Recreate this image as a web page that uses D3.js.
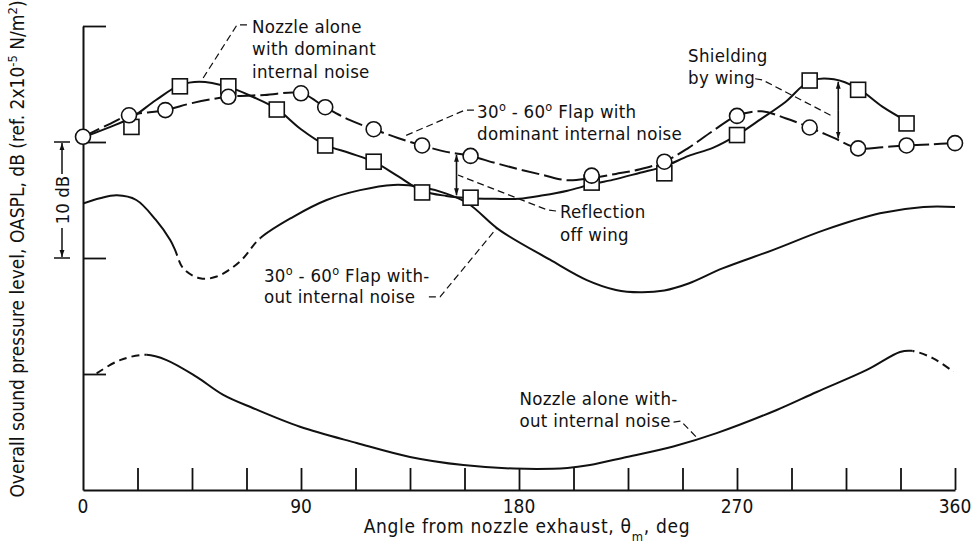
<!DOCTYPE html>
<html>
<head>
<meta charset="utf-8">
<script src="https://cdn.jsdelivr.net/npm/d3@7/dist/d3.min.js"></script>
<style>
  html, body { margin: 0; padding: 0; background: #fff; }
  svg text {
    font-family: "DejaVu Sans Condensed", "DejaVu Sans", "Liberation Sans Narrow", sans-serif;
    font-stretch: condensed;
    fill: #111;
  }
</style>
</head>
<body>
<svg id="chart" width="973" height="547"></svg>
<script>
// ---- Directivity data: angle from nozzle exhaust (deg) vs OASPL (dB, relative) ----

// Nozzle alone with dominant internal noise (square symbols)
const squareAngles = [20, 40, 60, 80, 100, 120, 140, 160, 210, 240, 270, 300, 320, 340];
const squareDb     = [31.3, 34.8, 34.8, 32.8, 29.7, 28.3, 25.65, 25.2, 26.5, 27.3, 30.6, 35.3, 34.5, 31.6];

// Faired curve through the square data
const squareFitAngles = [0, 10, 20, 30, 40, 48, 60, 70, 80, 90, 100, 110, 120, 130, 140, 150, 160, 170, 180,
                         190, 200, 210, 220, 230, 240, 250, 260, 270, 280, 290, 300, 310, 320, 330, 340];
const squareFitDb     = [30.4, 31.2, 32.1, 33.6, 34.9, 35.2, 34.75, 33.9, 32.85, 31.1, 29.75, 29.05, 28.3, 27.05, 25.8,
                         25.35, 25.15, 25.1, 25.1, 25.4, 25.8, 26.35, 26.8, 27.35, 27.9, 28.8, 29.5, 30.6, 32.0,
                         33.45, 35.25, 35.4, 34.6, 33.05, 31.8];

// 30-60 deg flap with dominant internal noise (circle symbols)
const circleAngles = [0, 19, 34, 60, 90, 100, 120, 140, 160, 210, 240, 270, 300, 320, 340, 360];
const circleDb     = [30.45, 32.3, 32.75, 33.9, 34.2, 33.0, 31.1, 29.7, 28.8, 27.1, 28.3, 32.25, 31.25, 29.45, 29.7, 29.9];

// Faired curve through the circle data
const circleFitAngles = [0, 10, 19, 34, 45, 60, 75, 90, 100, 110, 120, 130, 140, 150, 160, 170, 180, 190, 200,
                         210, 220, 230, 240, 250, 260, 270, 280, 290, 300, 310, 320, 330, 340, 350, 360];
const circleFitDb     = [30.45, 31.45, 32.3, 32.75, 33.35, 33.9, 34.05, 34.2, 33.0, 31.9, 31.1, 30.35, 29.7, 29.15,
                         28.8, 28.2, 27.65, 27.15, 26.7, 26.9, 27.25, 27.65, 28.3, 29.5, 30.95, 32.25, 32.65, 32.05,
                         31.25, 30.35, 29.45, 29.55, 29.7, 29.8, 29.9];

// 30-60 deg flap without internal noise (calculated curve; dashed where estimated)
const flapAngles = [0, 7, 14, 22, 30, 36, 38, 41.4, 48.3, 55.2, 64.8, 73.1, 86.8, 100.6, 114.4, 128.1, 139, 150, 159,
                    172, 192.8, 208, 220, 230, 240, 250, 264, 285, 306, 329, 347, 360];
const flapDb     = [24.7, 25.15, 25.4, 25.0, 23.3, 21.55, 20.7, 19.1, 18.25, 18.4, 19.7, 21.7, 23.55, 25.0, 25.85,
                    26.3, 26.15, 25.55, 24.7, 22.4, 19.85, 18.1, 17.25, 17.05, 17.2, 17.8, 19.1, 20.7, 22.4,
                    23.85, 24.4, 24.4];
const flapDashedRange = [38, 73.1];

// Nozzle alone without internal noise (calculated curve; dashed where estimated)
const nozzleAngles = [5.6, 15.3, 26.3, 34.5, 46.9, 57.9, 70.3, 89.6, 113, 135, 157, 178, 200, 209.3, 224.5,
                      243.7, 261.6, 286.4, 302.9, 323.6, 337.3, 342, 351, 359.3];
const nozzleDb     = [10.05, 11.2, 11.65, 11.2, 9.75, 8.2, 7.05, 5.45, 4.05, 2.85, 2.15, 1.85, 1.9, 2.15, 2.85,
                      3.75, 4.9, 6.9, 8.45, 10.35, 11.9, 12.0, 11.35, 10.2];
const nozzleDashedRanges = [[5.6, 26.3], [342.5, 360]];

// Axis ticks
const xMinorTicks = [22.5, 45, 67.5, 90, 112.5, 135, 157.5, 180, 202.5, 225, 247.5, 270, 292.5, 315, 337.5, 360];
const xTickLabels = [0, 90, 180, 270, 360];
const yTickValues = [10, 20, 30, 40];

// Difference arrows (angle, dB from, dB to)
const reflectionArrow = [154.2, 28.9, 25.4];
const shieldingArrow  = [311.8, 35.2, 30.3];

// ---- Drawing ----
const svg = d3.select("#chart");
const x = d3.scaleLinear().domain([0, 360]).range([83, 955]);
const y = d3.scaleLinear().domain([0, 40]).range([490, 26]);
const INK = "#111";
const FS = 18.5;      // annotation text
const FS_AX = 19;     // axis titles and tick labels

const zip = (a, b) => a.map((v, i) => [v, b[i]]);
const line = d3.line()
  .x(d => x(d[0])).y(d => y(d[1]))
  .curve(d3.curveCatmullRom.alpha(0.5));

const defs = svg.append("defs");
defs.append("marker").attr("id", "head")
  .attr("viewBox", "0 0 10 10").attr("refX", 10).attr("refY", 5)
  .attr("markerWidth", 7).attr("markerHeight", 7).attr("markerUnits", "userSpaceOnUse")
  .attr("orient", "auto-start-reverse")
  .append("path").attr("d", "M0,1.5 L10,5 L0,8.5 Z").attr("fill", INK);

// clip paths splitting a curve into solid and dashed angle ranges
function makeClip(id, ranges, invert) {
  const cp = defs.append("clipPath").attr("id", id);
  let segs;
  if (invert) {
    segs = [];
    let start = 0;
    ranges.forEach(r => { segs.push([start, r[0]]); start = r[1]; });
    segs.push([start, 360]);
  } else segs = ranges;
  segs.filter(s => s[1] > s[0]).forEach(s => {
    cp.append("rect").attr("x", x(s[0])).attr("y", 0)
      .attr("width", x(s[1]) - x(s[0])).attr("height", 547);
  });
}
makeClip("flapSolid", [flapDashedRange], true);
makeClip("flapDash", [flapDashedRange], false);
makeClip("nozSolid", nozzleDashedRanges, true);
makeClip("nozDash", nozzleDashedRanges, false);

// axes
const xAxis = d3.axisBottom(x).tickValues(xMinorTicks).tickSize(-22).tickSizeOuter(0).tickFormat("");
const gx = svg.append("g").attr("transform", `translate(0,${y(0)})`).call(xAxis);
const yAxis = d3.axisLeft(y).tickValues(yTickValues).tickSize(-23).tickSizeOuter(0).tickFormat("");
const gy = svg.append("g").attr("transform", `translate(${x(0)},0)`).call(yAxis);
[gx, gy].forEach(g => {
  g.selectAll("path.domain").attr("stroke", INK).attr("stroke-width", 2);
  g.selectAll(".tick line").attr("stroke", INK).attr("stroke-width", 1.8);
});

svg.append("g").selectAll("text").data(xTickLabels).join("text")
  .attr("x", d => x(d)).attr("y", 513).attr("text-anchor", "middle")
  .attr("font-size", FS_AX).text(d => d);

// rich text helper: segments of [text, "sup"|"sub"|undefined]
function richText(sel, segs, size) {
  segs.forEach(s => {
    const [t, kind] = s;
    if (!kind) sel.append("tspan").attr("font-size", size).text(t);
    else sel.append("tspan").attr("font-size", size * 0.68)
      .attr("baseline-shift", kind === "sup" ? "super" : "sub").text(t);
  });
  return sel;
}

// x axis title
richText(svg.append("text").attr("x", 527).attr("y", 533).attr("text-anchor", "middle")
  .attr("letter-spacing", 0.7),
  [["Angle from nozzle exhaust,  θ"], ["m", "sub"], [",  deg"]], FS_AX);

// y axis title
richText(svg.append("text").attr("transform", "translate(24,249) rotate(-90)").attr("text-anchor", "middle"),
  [["Overall sound pressure level,  OASPL,  dB (ref.  2x10"], ["-5", "sup"], [" N/m"], ["2", "sup"], [")"]], FS_AX);

// 10 dB scale bracket
const bx = x(0) - 21;
const gb = svg.append("g").attr("stroke", INK).attr("stroke-width", 1.5);
[30, 20].forEach(v => gb.append("line").attr("x1", bx - 8).attr("x2", bx + 8).attr("y1", y(v)).attr("y2", y(v)));
gb.append("line").attr("x1", bx).attr("x2", bx).attr("y1", y(30) + 32).attr("y2", y(30) + 1).attr("marker-end", "url(#head)");
gb.append("line").attr("x1", bx).attr("x2", bx).attr("y1", y(20) - 30).attr("y2", y(20) - 1).attr("marker-end", "url(#head)");
svg.append("text").attr("transform", `translate(${bx + 6.5},${(y(30) + y(20)) / 2}) rotate(-90)`)
  .attr("text-anchor", "middle").attr("font-size", FS).text("10 dB");

// curves
const curves = svg.append("g").attr("fill", "none").attr("stroke", INK).attr("stroke-width", 2);

const flapData = zip(flapAngles, flapDb);
curves.append("path").attr("d", line(flapData)).attr("clip-path", "url(#flapSolid)");
curves.append("path").attr("d", line(flapData)).attr("clip-path", "url(#flapDash)").attr("stroke-dasharray", "8,5");

const nozData = zip(nozzleAngles, nozzleDb);
curves.append("path").attr("d", line(nozData)).attr("clip-path", "url(#nozSolid)");
curves.append("path").attr("d", line(nozData)).attr("clip-path", "url(#nozDash)").attr("stroke-dasharray", "8,5");

curves.append("path").attr("d", line(zip(circleFitAngles, circleFitDb))).attr("stroke-dasharray", "18,5");
curves.append("path").attr("d", line(zip(squareFitAngles, squareFitDb)));

// symbols
const sym = svg.append("g").attr("fill", "#fff").attr("stroke", INK).attr("stroke-width", 1.6);
sym.selectAll("rect").data(zip(squareAngles, squareDb)).join("rect")
  .attr("x", d => x(d[0]) - 7.5).attr("y", d => y(d[1]) - 7.5).attr("width", 15).attr("height", 15);
sym.selectAll("circle").data(zip(circleAngles, circleDb)).join("circle")
  .attr("cx", d => x(d[0])).attr("cy", d => y(d[1])).attr("r", 7.5);

// difference arrows
[reflectionArrow, shieldingArrow].forEach(a => {
  const mid = (a[1] + a[2]) / 2;
  [a[1], a[2]].forEach(end => svg.append("line")
    .attr("x1", x(a[0])).attr("x2", x(a[0])).attr("y1", y(mid)).attr("y2", y(end))
    .attr("stroke", INK).attr("stroke-width", 1.6).attr("marker-end", "url(#head)"));
});

// annotations: text lines, position (angle, dB of first baseline), line height, leader polyline
const notes = [
  { lines: [[["Nozzle alone"]], [["with dominant"]], [["internal noise"]]], at: [69.8, 39.4], lh: 22.5,
    leader: [[67.7, 40.1], [63.6, 40.1], [49.1, 35.35]] },
  { lines: [[["30"], ["o", "sup"], [" - 60"], ["o", "sup"], [" Flap with"]], [["dominant internal noise"]]], at: [162.7, 32.05], lh: 22,
    leader: [[161.4, 32.75], [157.7, 32.75], [132.1, 30.45]] },
  { lines: [[["Shielding"]], [["by wing"]]], at: [249.8, 36.9], lh: 21.6,
    leader: [[277.5, 35.45], [280.5, 35.35], [310.1, 32.15]] },
  { lines: [[["Reflection"]], [["off wing"]]], at: [196.9, 23.45], lh: 23,
    leader: [[195.3, 24.05], [191.6, 24.15], [154.8, 27.15]] },
  { lines: [[["30"], ["o", "sup"], [" - 60"], ["o", "sup"], [" Flap with-"]], [["out internal noise"]]], at: [74.7, 17.95], lh: 21.5,
    leader: [[142.8, 16.65], [147.4, 16.65], [170.9, 22.6]] },
  { lines: [[["Nozzle alone with-"]], [["out internal noise"]]], at: [180.2, 7.35], lh: 22,
    leader: [[243.8, 5.85], [246.8, 5.95], [253.5, 4.5]] }
];
const leaderLine = d3.line().x(d => x(d[0])).y(d => y(d[1]));
notes.forEach(n => {
  n.lines.forEach((segs, i) => {
    richText(svg.append("text").attr("x", x(n.at[0])).attr("y", y(n.at[1]) + i * n.lh)
      .attr("letter-spacing", 0.3), segs, FS);
  });
  svg.append("path").attr("d", leaderLine(n.leader)).attr("fill", "none")
    .attr("stroke", INK).attr("stroke-width", 1.2).attr("stroke-dasharray", "7,4");
});
</script>
</body>
</html>
